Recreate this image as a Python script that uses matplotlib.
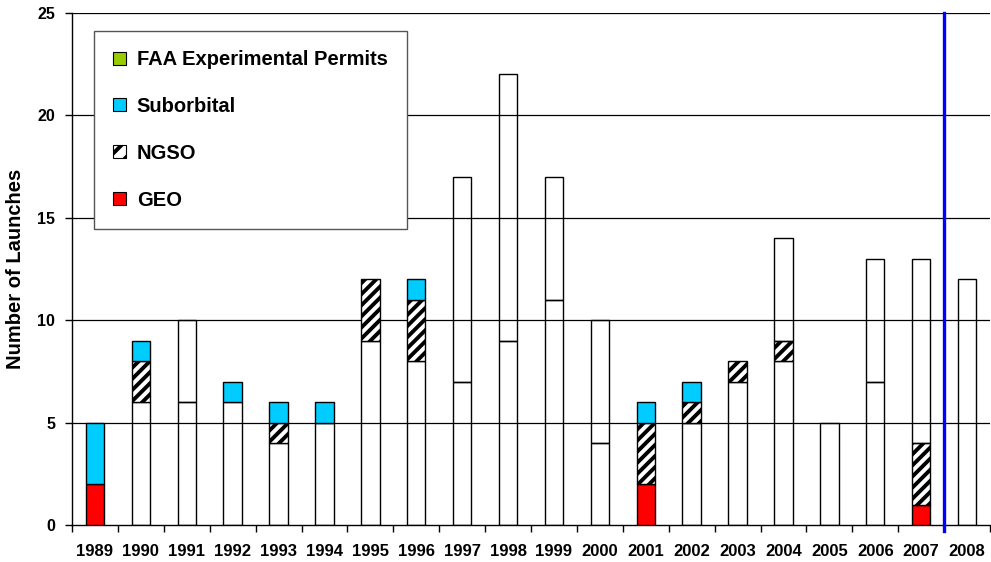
import matplotlib
matplotlib.use("Agg")
import matplotlib.pyplot as plt
import numpy as np

years = ["1989", "1990", "1991", "1992", "1993", "1994", "1995", "1996", "1997", "1998",
         "1999", "2000", "2001", "2002", "2003", "2004", "2005", "2006", "2007", "2008"]
geo_red      = [2, 0, 0, 0, 0, 0, 0, 0, 0, 0, 0, 0, 2, 0, 0, 0, 0, 0, 1, 0]
geo_plain    = [0, 6, 6, 6, 4, 5, 9, 8, 7, 9, 11, 4, 0, 5, 7, 8, 5, 7, 0, 12]
ngso_hatch   = [0, 2, 0, 0, 1, 0, 3, 3, 0, 0, 0, 0, 3, 1, 1, 1, 0, 0, 3, 0]
suborbital   = [3, 1, 0, 1, 1, 1, 0, 1, 0, 0, 0, 0, 1, 1, 0, 0, 0, 0, 0, 0]
ngso_plain   = [0, 0, 4, 0, 0, 0, 0, 0, 10, 13, 6, 6, 0, 0, 0, 5, 0, 6, 9, 0]
faa_permits  = [0] * 20
divider_pos = 18.5

plt.rcParams['font.family'] = ['Liberation Sans', 'DejaVu Sans']
plt.rcParams['font.weight'] = 'bold'
plt.rcParams['hatch.linewidth'] = 2.8

fig = plt.figure(figsize=(9.91, 5.62), dpi=100)
ax = fig.add_axes([72/991, 1 - 525/562, 918/991, 512/562])

x = np.arange(len(years))
w = 0.4
bottom = np.zeros(len(years))

def stack(vals, **kw):
    global bottom
    v = np.array(vals, dtype=float)
    mask = v > 0
    ax.bar(x[mask], v[mask], w, bottom=bottom[mask], edgecolor='black', linewidth=1.0, zorder=3, **kw)
    bottom = bottom + v

stack(geo_red, facecolor='#ff0000')
stack(geo_plain, facecolor='none')
stack(ngso_hatch, facecolor='white', hatch='///')
stack(suborbital, facecolor='#00ccff')
stack(ngso_plain, facecolor='none')

from matplotlib.patches import Patch
handles = [
    Patch(facecolor='#99cc00', edgecolor='black', linewidth=0.8, label='FAA Experimental Permits'),
    Patch(facecolor='#00ccff', edgecolor='black', linewidth=0.8, label='Suborbital'),
    Patch(facecolor='white', edgecolor='black', linewidth=0.8, hatch='//', label='NGSO'),
    Patch(facecolor='#ff0000', edgecolor='black', linewidth=0.8, label='GEO'),
]
leg = ax.legend(handles=handles, loc='upper left', bbox_to_anchor=(22/918, 1 - 18/512),
                frameon=True, fancybox=False, framealpha=1, edgecolor='#555555',
                prop={'weight': 'bold', 'size': 14.5}, handlelength=0.62, handleheight=0.62,
                handletextpad=0.55, labelspacing=1.38, borderpad=0.95, borderaxespad=0)
leg.get_frame().set_linewidth(1.0)
leg.set_zorder(10)

ax.axvline(divider_pos, ymin=-0.012, ymax=1, color='#0000ff', linewidth=2.4, zorder=5, clip_on=False)

ax.set_xlim(-0.5, len(years) - 0.5)
ax.set_ylim(0, 25)
ax.set_yticks([0, 5, 10, 15, 20, 25])
ax.set_yticklabels(['0', '5', '10', '15', '20', '25'], fontweight='bold', fontsize=11.5)
ax.set_xticks(x)
ax.set_xticklabels(years, fontweight='bold', fontsize=12)
ax.set_xticks(np.arange(-0.5, len(years), 1), minor=True)
ax.tick_params(axis='x', which='major', length=0, pad=14)
ax.tick_params(axis='x', which='minor', length=5, width=1, direction='out')
ax.tick_params(axis='y', length=5, width=1, direction='out', pad=7)
for yv in [5, 10, 15, 20, 25]:
    ax.axhline(yv, color='black', linewidth=0.9, zorder=1)
ax.spines['top'].set_visible(False)
ax.spines['right'].set_visible(False)
ax.spines['left'].set_linewidth(1.0)
ax.spines['bottom'].set_linewidth(1.0)
ax.set_ylabel('Number of Launches', fontweight='bold', fontsize=14.5, labelpad=9)

fig.savefig('out.png', dpi=100)
